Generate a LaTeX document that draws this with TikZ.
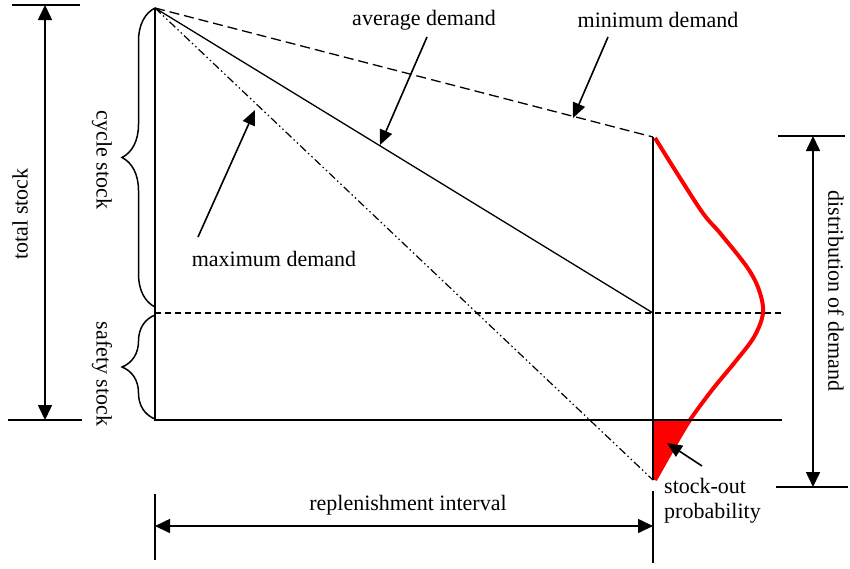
\documentclass[tikz,border=0pt]{standalone}
\usepackage{fontspec}
\setmainfont{Liberation Serif}
\usetikzlibrary{arrows.meta,decorations.pathreplacing}
\begin{document}
\begin{tikzpicture}[x=1pt,y=-1pt,
  thin line/.style={line width=1.3pt,black},
  dimline/.style={line width=1.6pt,black,{Triangle[length=15pt,width=14pt]}-{Triangle[length=15pt,width=14pt]}},
  callout/.style={line width=1.6pt,black,-{Triangle[length=15pt,width=13pt]}},
  lbl/.style={font=\fontsize{22}{25}\selectfont,inner sep=0pt},
  minline/.style={line width=1.3pt,dash pattern=on 10pt off 5pt},
  maxline/.style={line width=1.2pt,dash pattern=on 8pt off 3pt on 1.5pt off 3pt on 1.5pt off 3pt},
  midline/.style={line width=1.3pt,dash pattern=on 6pt off 4pt},
  bracestyle/.style={line width=1.5pt,decorate,decoration={brace,amplitude=33pt}},
  redcurve/.style={line width=4pt,red,line join=round}]
\useasboundingbox (0,0) rectangle (850,568);
% key points
\coordinate (apex) at (155,8);
\coordinate (bl) at (155,420);
\coordinate (br) at (782,420);
\coordinate (ml) at (155,313);
\coordinate (mr) at (782,313);
\coordinate (vtop) at (653,137);
\coordinate (vavg) at (653,313);
\coordinate (vbot) at (653,480);
% red filled stock-out area and curve
\fill[red] (653,420) -- (689,420) .. controls (676,442) and (664,462) .. (655,480) -- (653,480) -- cycle;
\draw[redcurve] plot[smooth,tension=0.55] coordinates {(655,138) (700,209) (720,233) (747,267) (759,290) (763,313) (754,337) (735,362) (712,390) (690,420) (672,450) (655,480)};
% main frame
\draw[thin line] (apex) -- (bl) -- (br);
\draw[midline] (ml) -- (mr);
\draw[thin line] (vtop) -- (vbot);
% demand lines
\draw[minline] (apex) -- (vtop);
\draw[thin line] (apex) -- (vavg);
\draw[maxline] (apex) -- (vbot);
% braces
\draw[bracestyle] (155,307) -- (155,8);
\draw[bracestyle] (155,419) -- (155,315);
\node[lbl,rotate=-90] (cyc) at (102,160) {cycle stock};
\node[lbl,rotate=-90] (saf) at (102,374) {safety stock};
% total stock
\coordinate (tt1) at (12,5); \coordinate (tt2) at (80,5);
\coordinate (tb1) at (8,420); \coordinate (tb2) at (82,420);
\draw[thin line] (tt1) -- (tt2);
\draw[thin line] (tb1) -- (tb2);
\coordinate (ts1) at (45,5); \coordinate (ts2) at (45,420);
\draw[dimline] (ts1) -- (ts2);
\node[lbl,rotate=90] (tot) at (20,214) {total stock};
% distribution of demand
\coordinate (dt1) at (778,136); \coordinate (dt2) at (845,136);
\coordinate (db1) at (776,487); \coordinate (db2) at (848,487);
\draw[thin line] (dt1) -- (dt2);
\draw[thin line] (db1) -- (db2);
\coordinate (dd1) at (813,136); \coordinate (dd2) at (813,487);
\draw[dimline] (dd1) -- (dd2);
\node[lbl,rotate=-90] (dist) at (836,291) {distribution of demand};
% replenishment interval
\coordinate (rl1) at (155,494); \coordinate (rl2) at (155,560);
\coordinate (rr1) at (653,491); \coordinate (rr2) at (653,563);
\draw[thin line] (rl1) -- (rl2);
\draw[thin line] (rr1) -- (rr2);
\coordinate (ra) at (155,526); \coordinate (rb) at (653,526);
\draw[dimline] (ra) -- (rb);
\node[lbl] (rep) at (408,505) {replenishment interval};
% labels with callouts
\node[lbl] (avg) at (424,20) {average demand};
\coordinate (avgT) at (427,37); \coordinate (avgH) at (380,145);
\draw[callout] (avgT) -- (avgH);
\node[lbl] (min) at (658,20) {minimum demand};
\coordinate (minT) at (608,37); \coordinate (minH) at (573,118);
\draw[callout] (minT) -- (minH);
\node[lbl] (max) at (274,259) {maximum demand};
\coordinate (maxT) at (198,237); \coordinate (maxH) at (255,110);
\draw[callout] (maxT) -- (maxH);
\node[lbl,align=left,anchor=north west] (so) at (664,478) {stock-out\\probability};
\coordinate (soT) at (702,466); \coordinate (soH) at (667,443);
\draw[callout] (soT) -- (soH);
\end{tikzpicture}
\end{document}
